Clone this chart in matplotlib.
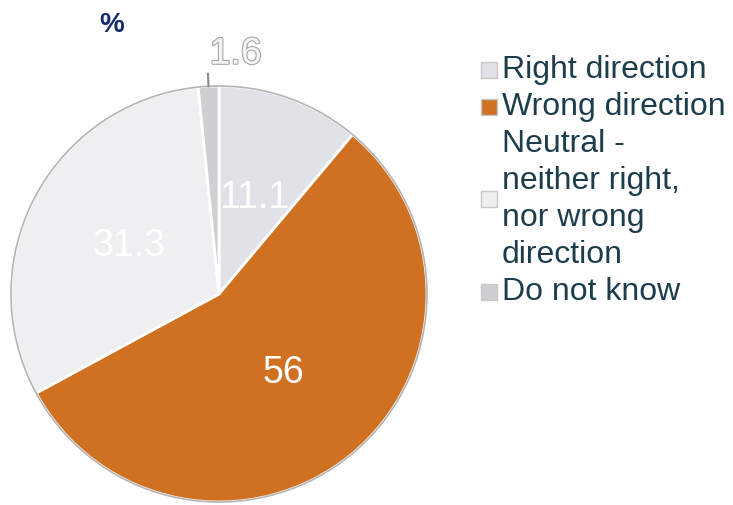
import numpy as np
import matplotlib.pyplot as plt
import matplotlib.patheffects as pe
from matplotlib.patches import Circle, Rectangle

plt.rcParams['font.family'] = ['Liberation Sans', 'DejaVu Sans']

labels = ['Right direction', 'Wrong direction',
          'Neutral -\nneither right,\nnor wrong\ndirection', 'Do not know']
values = [11.1, 56, 31.3, 1.6]
colors = ['#e1e2e7', '#d07122', '#efeff1', '#cfcfd1']

W, H = 733, 505
fig = plt.figure(figsize=(W / 100, H / 100), dpi=100)

# pie centre and radius in pixels; axes a little larger so the rim isn't clipped
cx, cy, r = 219, 294, 208
pad = 1.02
ax = fig.add_axes([(cx - r * pad) / W, (H - cy - r * pad) / H,
                   2 * r * pad / W, 2 * r * pad / H])

wedges, texts = ax.pie(values, colors=colors, startangle=90, counterclock=False,
                       radius=1, wedgeprops=dict(edgecolor='white', linewidth=2))
ax.add_patch(Circle((0, 0), 1, fill=False, edgecolor='#b4b4b4', linewidth=1.2))
ax.set_xlim(-pad, pad)
ax.set_ylim(-pad, pad)
ax.set_aspect('equal')
ax.axis('off')

cum = np.cumsum([0] + values[:-1])
for v, start in zip(values, cum):
    mid = np.deg2rad(90 - (start + v / 2) * 3.6)
    txt = f'{v:g}'
    if v < 5:
        # small slice: label outside with a short leader
        x0, y0 = np.cos(mid), np.sin(mid)
        ax.plot([x0, x0 * 1.06], [y0, y0 * 1.06], color='#8a8a8a', lw=1.5,
                clip_on=False)
        ax.text(0.08, 1.155, txt, ha='center', va='center', fontsize=27,
                color='#f4f4f4', clip_on=False,
                path_effects=[pe.withStroke(linewidth=1.6, foreground='#a8a8a8')])
    else:
        ax.text(0.49 * np.cos(mid), 0.49 * np.sin(mid), txt, ha='center',
                va='center', fontsize=27, color='white')

fig.text(112 / W, 1 - 25 / H, '%', ha='center', va='center', fontsize=20,
         fontweight='bold', color='#142a6a')

# legend
line_h = 37
y = 70
for lab, col in zip(labels, colors):
    n = lab.count('\n') + 1
    ymid = y + (n - 1) * line_h / 2
    fig.patches.append(Rectangle((481 / W, 1 - (ymid + 8) / H), 16 / W, 16 / H,
                                 transform=fig.transFigure, facecolor=col,
                                 edgecolor='#c8c8c8', linewidth=1))
    fig.text(502 / W, 1 - ymid / H, lab, ha='left', va='center', fontsize=23,
             color='#1d3d4c', linespacing=1.3)
    y += n * line_h

fig.savefig('out.png', dpi=100)
